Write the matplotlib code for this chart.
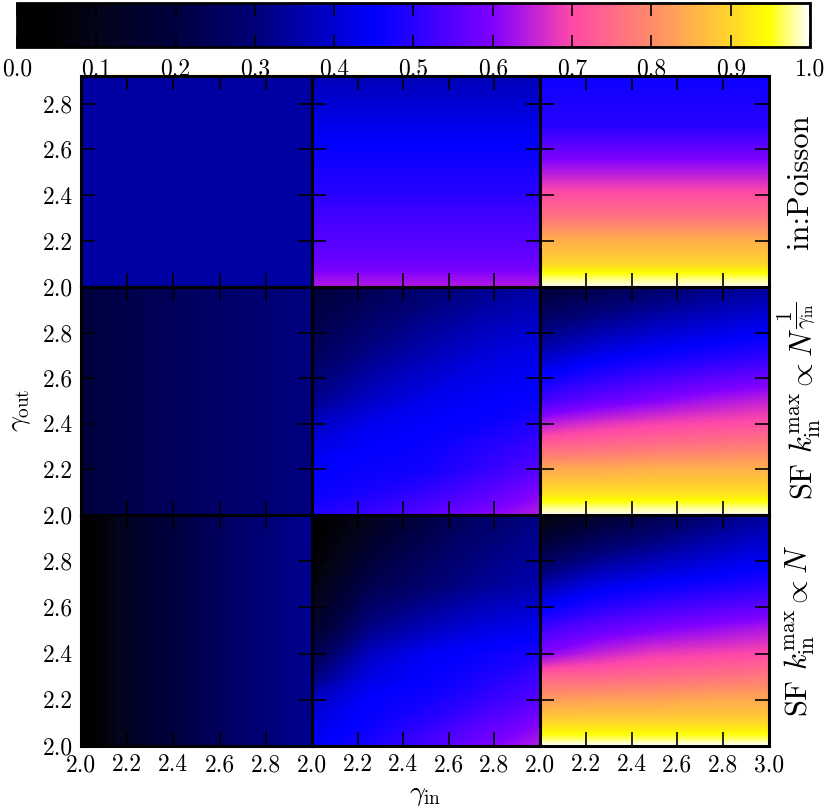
import numpy as np
import matplotlib
matplotlib.use('Agg')
import matplotlib.pyplot as plt
from matplotlib.colors import LinearSegmentedColormap, Normalize
from matplotlib.cm import ScalarMappable

plt.rcParams['font.family'] = 'serif'
plt.rcParams['font.serif'] = ['cmr10']
plt.rcParams['mathtext.fontset'] = 'cm'
plt.rcParams['axes.formatter.use_mathtext'] = True

gamma_in = [2.0, 2.25, 2.5, 2.75, 3.0]
gamma_out = [2.0, 2.05, 2.1, 2.2, 2.3, 2.4, 2.5, 2.7, 3.0]

# row 1: in:Poisson
poisson_a = [[0.35, 0.35, 0.35, 0.35, 0.35],
             [0.35, 0.35, 0.35, 0.35, 0.35],
             [0.35, 0.35, 0.35, 0.35, 0.35],
             [0.35, 0.35, 0.35, 0.35, 0.35],
             [0.35, 0.35, 0.35, 0.35, 0.35],
             [0.35, 0.35, 0.35, 0.35, 0.35],
             [0.35, 0.35, 0.35, 0.35, 0.35],
             [0.35, 0.35, 0.35, 0.35, 0.35],
             [0.35, 0.35, 0.35, 0.35, 0.35]]
poisson_b = [[0.64, 0.64, 0.64, 0.64, 0.64],
             [0.61, 0.61, 0.61, 0.61, 0.61],
             [0.58, 0.58, 0.58, 0.58, 0.58],
             [0.55, 0.55, 0.55, 0.55, 0.55],
             [0.53, 0.53, 0.53, 0.53, 0.53],
             [0.50, 0.50, 0.50, 0.50, 0.50],
             [0.48, 0.48, 0.48, 0.48, 0.48],
             [0.43, 0.43, 0.43, 0.43, 0.43],
             [0.35, 0.35, 0.35, 0.35, 0.35]]
poisson_c = [[1.00, 1.00, 1.00, 1.00, 1.00],
             [0.96, 0.96, 0.96, 0.96, 0.96],
             [0.90, 0.90, 0.90, 0.90, 0.90],
             [0.85, 0.85, 0.85, 0.85, 0.85],
             [0.77, 0.77, 0.77, 0.77, 0.77],
             [0.71, 0.71, 0.71, 0.71, 0.71],
             [0.64, 0.64, 0.64, 0.64, 0.64],
             [0.50, 0.50, 0.50, 0.50, 0.50],
             [0.45, 0.45, 0.45, 0.45, 0.45]]

# row 2: SF, k_in^max ~ N^(1/gamma_in)
sfroot_a = [[0.19, 0.23, 0.26, 0.29, 0.31],
            [0.19, 0.23, 0.26, 0.29, 0.31],
            [0.19, 0.23, 0.26, 0.29, 0.31],
            [0.19, 0.23, 0.26, 0.29, 0.31],
            [0.19, 0.23, 0.26, 0.29, 0.31],
            [0.19, 0.23, 0.26, 0.29, 0.31],
            [0.19, 0.23, 0.26, 0.29, 0.31],
            [0.19, 0.23, 0.26, 0.29, 0.31],
            [0.19, 0.23, 0.26, 0.29, 0.31]]
sfroot_b = [[0.49, 0.52, 0.56, 0.60, 0.64],
            [0.47, 0.50, 0.53, 0.57, 0.62],
            [0.46, 0.48, 0.51, 0.55, 0.60],
            [0.45, 0.46, 0.47, 0.51, 0.55],
            [0.42, 0.45, 0.46, 0.49, 0.52],
            [0.38, 0.43, 0.45, 0.46, 0.49],
            [0.32, 0.39, 0.43, 0.45, 0.46],
            [0.25, 0.32, 0.37, 0.41, 0.43],
            [0.18, 0.23, 0.28, 0.32, 0.35]]
sfroot_c = [[1.00, 1.00, 1.00, 1.00, 1.00],
            [0.96, 0.96, 0.96, 0.96, 0.96],
            [0.91, 0.91, 0.91, 0.91, 0.91],
            [0.84, 0.84, 0.85, 0.85, 0.85],
            [0.74, 0.75, 0.76, 0.77, 0.78],
            [0.64, 0.67, 0.69, 0.70, 0.71],
            [0.53, 0.57, 0.60, 0.63, 0.65],
            [0.38, 0.43, 0.46, 0.48, 0.50],
            [0.17, 0.22, 0.27, 0.31, 0.34]]

# row 3: SF, k_in^max ~ N
sflin_a = [[0.02, 0.15, 0.23, 0.29, 0.33],
           [0.02, 0.15, 0.23, 0.29, 0.33],
           [0.02, 0.15, 0.23, 0.29, 0.33],
           [0.02, 0.15, 0.23, 0.29, 0.33],
           [0.02, 0.15, 0.23, 0.29, 0.33],
           [0.02, 0.15, 0.23, 0.29, 0.33],
           [0.02, 0.15, 0.23, 0.29, 0.33],
           [0.02, 0.15, 0.23, 0.29, 0.33],
           [0.02, 0.15, 0.23, 0.29, 0.33]]
sflin_b = [[0.44, 0.48, 0.53, 0.59, 0.64],
           [0.43, 0.47, 0.52, 0.57, 0.62],
           [0.42, 0.46, 0.50, 0.55, 0.60],
           [0.38, 0.45, 0.47, 0.51, 0.55],
           [0.30, 0.42, 0.45, 0.48, 0.52],
           [0.22, 0.38, 0.44, 0.46, 0.48],
           [0.15, 0.32, 0.38, 0.42, 0.44],
           [0.07, 0.22, 0.28, 0.33, 0.36],
           [0.02, 0.10, 0.20, 0.27, 0.31]]
sflin_c = [[1.00, 1.00, 1.00, 1.00, 1.00],
           [0.95, 0.95, 0.95, 0.95, 0.95],
           [0.90, 0.90, 0.90, 0.90, 0.90],
           [0.82, 0.83, 0.83, 0.84, 0.84],
           [0.74, 0.74, 0.75, 0.76, 0.77],
           [0.60, 0.65, 0.68, 0.69, 0.70],
           [0.53, 0.57, 0.60, 0.62, 0.64],
           [0.35, 0.42, 0.45, 0.47, 0.49],
           [0.05, 0.15, 0.22, 0.29, 0.34]]

panels = [[poisson_a, poisson_b, poisson_c],
          [sfroot_a, sfroot_b, sfroot_c],
          [sflin_a, sflin_b, sflin_c]]
row_labels = ['in:Poisson',
              r'SF $k_{\rm in}^{\rm max}\propto N^{\dfrac{1}{\gamma_{\rm in}}}$',
              r'SF $k_{\rm in}^{\rm max}\propto N$']

# colour map
cmap_pos = [0.0, 0.04, 0.1, 0.2, 0.3, 0.4, 0.45, 0.5, 0.6, 0.65, 0.7, 0.8, 0.9, 0.95, 1.0]
cmap_col = ['#000000', '#000000', '#04041a', '#000040', '#000078', '#0000d0', '#0000ff',
            '#2800ff', '#8000ff', '#c020d8', '#ff48a8', '#ff8a6a', '#ffd42c', '#ffff00', '#ffffff']
cmap = LinearSegmentedColormap.from_list('gp', list(zip(cmap_pos, cmap_col)))
norm = Normalize(0, 1)

W, H = 829, 809
fig = plt.figure(figsize=(W / 100, H / 100), dpi=100)

col_x = [81, 312, 540, 769]
row_y = [76, 287, 515, 746]
row_top = [2.92, 3.0, 3.0]
levels = np.linspace(0, 1, 257)

for i in range(3):
    for j in range(3):
        x0, x1 = col_x[j], col_x[j + 1]
        y0, y1 = row_y[i], row_y[i + 1]
        ax = fig.add_axes([x0 / W, 1 - y1 / H, (x1 - x0) / W, (y1 - y0) / H])
        z = np.array(panels[i][j])
        ax.contourf(gamma_in, gamma_out, z, levels=levels, cmap=cmap, norm=norm,
                    antialiased=False, extend='both')
        ax.set_xticks([2.0, 2.2, 2.4, 2.6, 2.8, 3.0])
        ax.set_yticks([2.0, 2.2, 2.4, 2.6, 2.8, 3.0])
        ax.set_xlim(2.0, 3.0)
        ax.set_ylim(2.0, row_top[i])
        ax.tick_params(direction='in', length=10, width=1.2, top=True, right=True,
                       labelsize=17, pad=6)
        if i == 2:
            xl = ['2.0', '2.2', '2.4', '2.6', '2.8', '3.0' if j == 2 else '']
            ax.set_xticklabels(xl)
        else:
            ax.set_xticklabels([])
        if j == 0:
            ax.set_yticklabels(['2.0', '2.2', '2.4', '2.6', '2.8', ''])
        else:
            ax.set_yticklabels([])
        for s in ax.spines.values():
            s.set_linewidth(2.2)
    fig.text(800 / W, 1 - (row_y[i] + row_y[i + 1]) / 2 / H, row_labels[i],
             rotation=90, ha='center', va='center', fontsize=22)

fig.text(20 / W, 1 - 410 / H, r'$\gamma_{\rm out}$', rotation=90,
         ha='center', va='center', fontsize=20)
fig.text(425 / W, 1 - 795 / H, r'$\gamma_{\rm in}$', ha='center', va='center', fontsize=20)

# colour bar on top
cax = fig.add_axes([17 / W, 1 - 47 / H, 793 / W, 44 / H])
cb = fig.colorbar(ScalarMappable(norm=norm, cmap=cmap), cax=cax, orientation='horizontal')
cb.set_ticks(np.arange(0, 1.01, 0.1))
cb.ax.set_xticklabels(['%.1f' % v for v in np.arange(0, 1.01, 0.1)])
cb.ax.tick_params(direction='in', length=9, width=1.2, top=True, bottom=True,
                  labelsize=17, pad=8)
cb.outline.set_linewidth(2)

fig.savefig('out.png', dpi=100)
